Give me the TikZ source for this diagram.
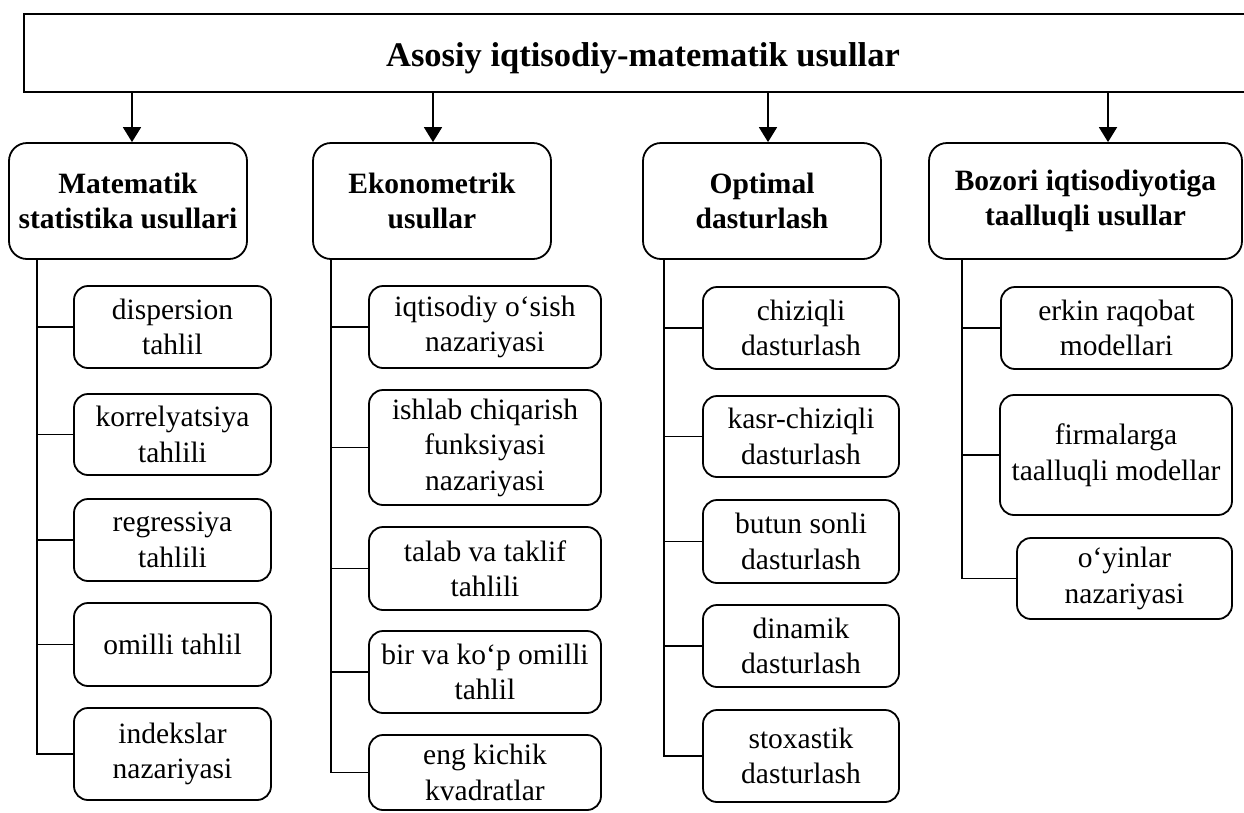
\documentclass[tikz,border=0pt]{standalone}
\usepackage{fontspec}
\setmainfont{Liberation Serif}
\usetikzlibrary{arrows.meta}
\begin{document}
\begin{tikzpicture}[x=1pt,y=-1pt,
  line width=1.8pt,
  titlebox/.style={draw, rectangle, minimum width=1238pt, minimum height=78pt,
    font=\fontsize{34.5}{41}\selectfont\bfseries, inner sep=0pt},
  headbox/.style={draw, rounded corners=18pt, minimum height=116pt, align=center,
    inner sep=2pt, font=\fontsize{29.5}{35.5}\selectfont\bfseries},
  leafbox/.style={draw, rounded corners=14pt, align=center,
    inner sep=2pt, font=\fontsize{29.5}{35.5}\selectfont},
  arr/.style={-{Triangle[length=15pt,width=18pt]}},
]
\useasboundingbox (0,0) rectangle (1244,812);

% title bar
\node[titlebox] (top) at (643,53) {\raisebox{-13pt}[0pt][0pt]{Asosiy iqtisodiy-matematik usullar}};

% column headers
\node[headbox, minimum width=238pt] (h1) at (128,201) {Matematik\\statistika usullari};
\node[headbox, minimum width=238pt] (h2) at (432,201) {Ekonometrik\\usullar};
\node[headbox, minimum width=238pt] (h3) at (762,201) {Optimal\\dasturlash};
\node[headbox, minimum width=313pt] (h4) at (1085.5,201) {Bozori iqtisodiyotiga\\taalluqli usullar};

% arrows from the title bar
\coordinate (x1) at (132,0);
\coordinate (x2) at (433,0);
\coordinate (x3) at (768,0);
\coordinate (x4) at (1108,0);
\foreach \i in {1,...,4}
  \draw[arr] (top.south -| x\i) -- (x\i |- h\i.north);

% column 1
\begin{scope}[every node/.style={leafbox, minimum width=197pt}]
\node[minimum height=82pt] (c11) at (172.5,327) {dispersion\\tahlil};
\node[minimum height=81pt] (c12) at (172.5,434.5) {korrelyatsiya\\tahlili};
\node[minimum height=82pt] (c13) at (172.5,540) {regressiya\\tahlili};
\node[minimum height=83pt] (c14) at (172.5,644.5) {omilli tahlil};
\node[minimum height=92pt] (c15) at (172.5,754) {indekslar\\nazariyasi};
\end{scope}

% column 2
\begin{scope}[every node/.style={leafbox, minimum width=232pt}]
\node[minimum height=82pt] (c21) at (485,327) {iqtisodiy o‘sish\\nazariyasi};
\node[minimum height=115pt] (c22) at (485,447.5) {ishlab chiqarish\\funksiyasi\\nazariyasi};
\node[minimum height=83pt] (c23) at (485,568.5) {talab va taklif\\tahlili};
\node[minimum height=82pt] (c24) at (485,672) {bir va ko‘p omilli\\tahlil};
\node[minimum height=75pt] (c25) at (485,772.5) {eng kichik\\kvadratlar};
\end{scope}

% column 3
\begin{scope}[every node/.style={leafbox, minimum width=196pt}]
\node[minimum height=82pt] (c31) at (801,328) {chiziqli\\dasturlash};
\node[minimum height=81pt] (c32) at (801,436.5) {kasr-chiziqli\\dasturlash};
\node[minimum height=83pt] (c33) at (801,541.5) {butun sonli\\dasturlash};
\node[minimum height=82pt] (c34) at (801,646) {dinamik\\dasturlash};
\node[minimum height=92pt] (c35) at (801,756) {stoxastik\\dasturlash};
\end{scope}

% column 4
\node[leafbox, minimum width=231pt, minimum height=82pt] (c41) at (1116.5,328) {erkin raqobat\\modellari};
\node[leafbox, minimum width=232pt, minimum height=120pt] (c42) at (1116,455) {firmalarga\\taalluqli modellar};
\node[leafbox, minimum width=215pt, minimum height=81pt] (c43) at (1124.5,578.5) {o‘yinlar\\nazariyasi};

% trunk lines and branches
\coordinate (t1) at (37,0);
\coordinate (t2) at (331,0);
\coordinate (t3) at (664,0);
\coordinate (t4) at (962,0);
\foreach \i in {1,2,3}
  \foreach \j in {1,...,5}
    \draw (h\i.south -| t\i) |- (c\i\j.west);
\foreach \j in {1,2,3}
  \draw (h4.south -| t4) |- (c4\j.west);
\end{tikzpicture}
\end{document}
